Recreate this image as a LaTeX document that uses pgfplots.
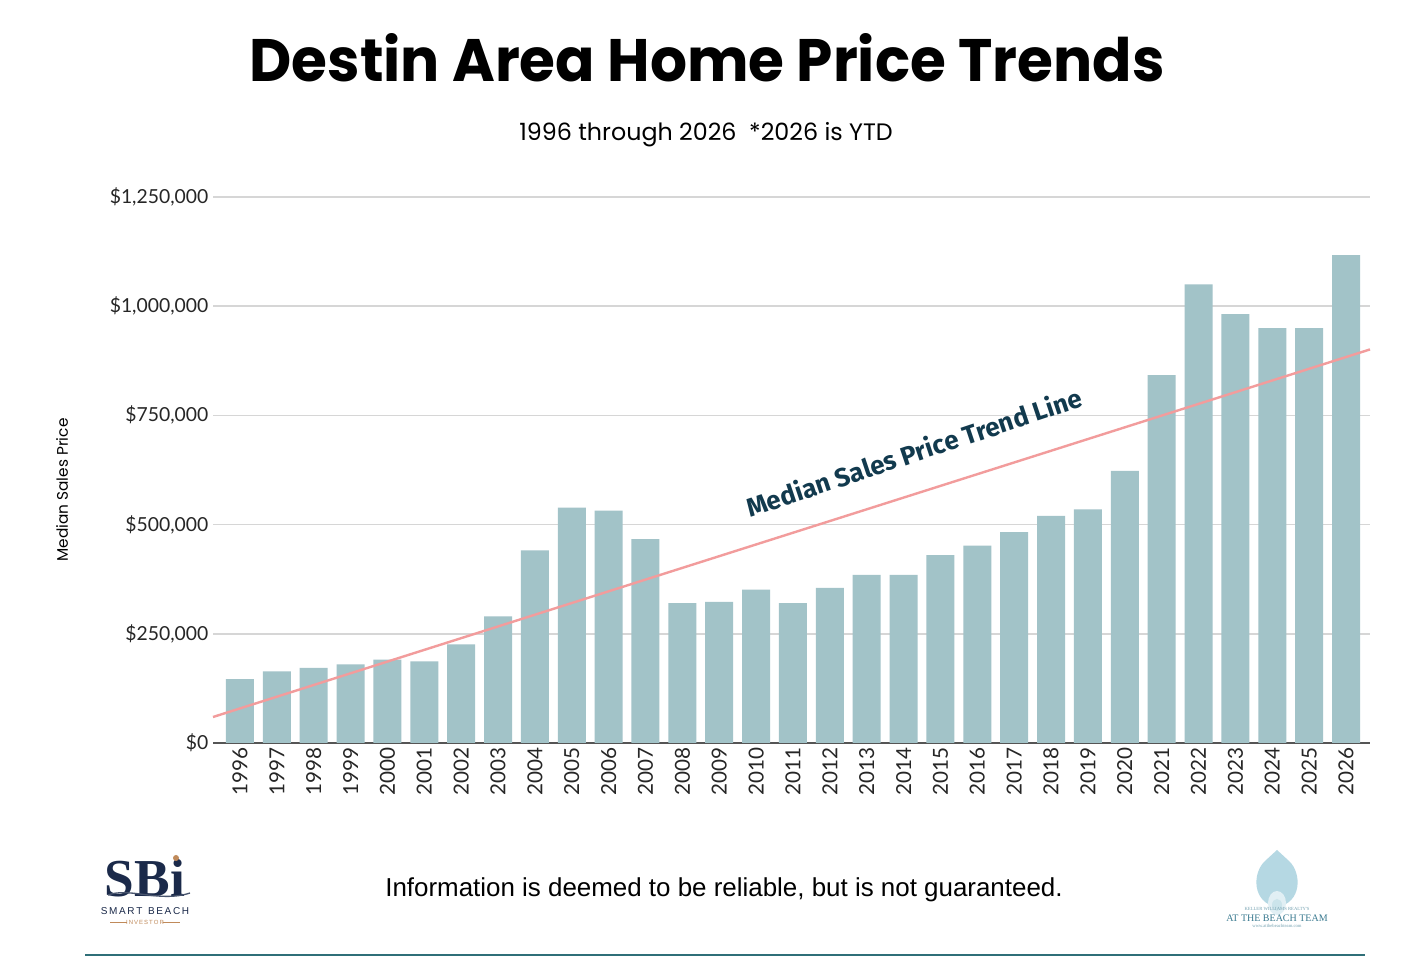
\documentclass[border=0pt]{standalone}
\usepackage{fontspec}
\usepackage{pgfplots}
\pgfplotsset{compat=1.18}
\setmainfont{Lato}
\newfontfamily\titlefont{Poppins}
\newfontfamily\tickfont{Lato}
\newfontfamily\notefont{Fira Sans}
\newfontfamily\footfont{Liberation Sans}
\newfontfamily\logofont{Liberation Serif}
\definecolor{barc}{HTML}{A2C3C8}
\definecolor{trendc}{HTML}{F29C9C}
\definecolor{notec}{HTML}{123A4E}
\definecolor{gridc}{HTML}{D6D6D6}
\definecolor{axisc}{HTML}{555555}
\definecolor{tealline}{HTML}{2F6F78}
\definecolor{navy}{HTML}{1B2A4A}
\definecolor{orangec}{HTML}{C08A5A}
\definecolor{shellc}{HTML}{B5D8E3}
\definecolor{shelltext}{HTML}{3A7A90}
\begin{document}
\begin{tikzpicture}[x=0.75pt,y=0.75pt]
\fill[white] (0,0) rectangle (1414,973);
% title
\node at (707,915) {\resizebox{686pt}{36pt}{\titlefont\bfseries Destin Area Home Price Trends}};
\node at (706,838) {\resizebox{280pt}{!}{\titlefont\fontsize{16}{18}\selectfont 1996 through 2026\ \ *2026 is YTD}};
% y label
\node[rotate=90] at (62,483) {\titlefont\fontsize{11.5}{13}\selectfont Median Sales Price};
\begin{axis}[
  at={(159.75pt,172.5pt)}, anchor=south west, scale only axis,
  width=867.75pt, height=409.5pt,
  xmin=-0.73, xmax=30.65, ymin=0, ymax=1250000,
  axis x line*=bottom, axis y line*=left,
  x axis line style={draw=axisc, line width=1.5pt, -},
  y axis line style={draw=none},
  major tick length=0pt,
  ymajorgrids, grid style={draw=gridc, line width=1.1pt},
  ytick={0,250000,500000,750000,1000000,1250000},
  yticklabels={{\$0},{\$250,000},{\$500,000},{\$750,000},{\$1,000,000},{\$1,250,000}},
  y tick label style={font=\tickfont\fontsize{14.5}{16}\selectfont, text=black!85},
  xtick={0,...,30},
  xticklabels={1996,1997,1998,1999,2000,2001,2002,2003,2004,2005,2006,2007,2008,2009,2010,2011,2012,2013,2014,2015,2016,2017,2018,2019,2020,2021,2022,2023,2024,2025,2026},
  x tick label style={rotate=90, anchor=east, font=\tickfont\fontsize{15.5}{17}\selectfont, text=black!85},
  scaled y ticks=false,
  clip=false,
]
\addplot[ybar, bar width=21pt, fill=barc, draw=none] coordinates {
(0,146000) (1,164000) (2,172000) (3,180000) (4,191000) (5,187000) (6,226000) (7,290000) (8,441000) (9,539000) (10,532000) (11,467000) (12,320000) (13,323000) (14,351000) (15,320000) (16,355000) (17,385000) (18,385000) (19,430000) (20,452000) (21,483000) (22,520000) (23,535000) (24,623000) (25,842000) (26,1050000) (27,982000) (28,950000) (29,950000) (30,1117000)
};
\addplot[trendc, line width=1.8pt] coordinates {(-0.73,59500) (30.65,901000)};
\end{axis}
\node[rotate=18.5, text=notec] at (914,521) {\notefont\bfseries\fontsize{19.5}{21}\selectfont Median Sales Price Trend Line};
% footer
\node at (724,83) {\resizebox{508pt}{!}{\footfont\fontsize{18}{22}\selectfont Information is deemed to be reliable, but is not guaranteed.}};
\draw[tealline, line width=1.9pt] (85,18) -- (1365,18);
% left logo
\node[text=navy] at (145,95) {\logofont\bfseries\fontsize{40}{44}\selectfont SBi};
\fill[orangec] (176,115) circle (3);
\draw[navy!80, line width=1pt] (108,78) .. controls (130,86) and (160,70) .. (190,80);
\node[text=navy] at (145,62) {\footfont\fontsize{7.5}{9}\selectfont S\,M\,A\,R\,T\ \ B\,E\,A\,C\,H};
\node[text=orangec] at (145,51) {\footfont\fontsize{4.5}{5}\selectfont I\,N\,V\,E\,S\,T\,O\,R};
\draw[orangec, line width=0.5pt] (110,51) -- (127,51) (163,51) -- (180,51);
% right logo
\fill[shellc] (1277,66) .. controls (1252,70) and (1252,100) .. (1265,112) -- (1277,123) -- (1289,112) .. controls (1302,100) and (1302,70) .. (1277,66) -- cycle;
\fill[white!60!shellc] (1277,70) ellipse (9 and 12);
\fill[shellc!70!white] (1277,68) ellipse (5 and 6);
\node[text=shelltext!70] at (1277,64) {\logofont\fontsize{3.5}{4}\selectfont KELLER WILLIAMS REALTY'S};
\node[text=shelltext] at (1277,55) {\logofont\fontsize{7.5}{9}\selectfont AT THE BEACH TEAM};
\node[text=shelltext!70] at (1277,47) {\logofont\fontsize{3.5}{4}\selectfont www.atthebeachteam.com};
\end{tikzpicture}
\end{document}
